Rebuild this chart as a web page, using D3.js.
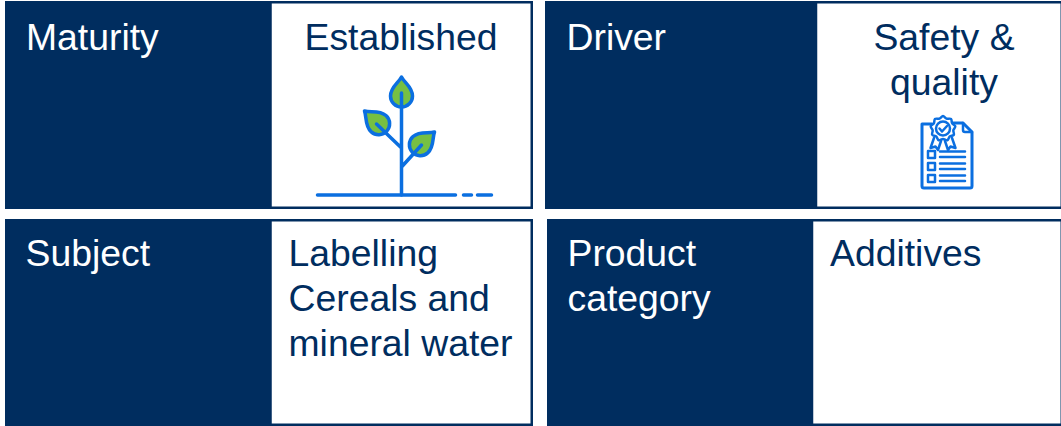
<!DOCTYPE html>
<html>
<head>
<meta charset="utf-8">
<script src="https://cdnjs.cloudflare.com/ajax/libs/d3/7.8.5/d3.min.js"></script>
<style>
html, body { margin: 0; padding: 0; background: #fff; overflow: hidden; }
text { font-family: "Liberation Sans", Arial, sans-serif; font-size: 37.33px; }
</style>
</head>
<body>
<div id="container"></div>
<script>
// what the four boxes say
var headings = [["Maturity"], ["Driver"], ["Subject"], ["Product", "category"]];
var contents = [["Established"], ["Safety &", "quality"], ["Labelling", "Cereals and", "mineral water"], ["Additives"]];

var navy = "#002d5f", blue = "#0b6fe0", green = "#76c043";

// box layout, kept apart from the text
var boxes = [
    { x0: 5,   x1: 270.5, x2: 533,  y0: 1,   y1: 209, hx: 26,  cx: 401, anchor: "middle" },
    { x0: 545, x1: 816,   x2: 1063, y0: 1,   y1: 209, hx: 566.5, cx: 944, anchor: "middle" },
    { x0: 5,   x1: 270.5, x2: 533,  y0: 219, y1: 426, hx: 25.5, cx: 288.5, anchor: "start" },
    { x0: 547, x1: 812,   x2: 1063, y0: 219, y1: 426, hx: 567.5, cx: 830, anchor: "start" }
];
var lineGap = 45, baseline = 34;

var svg = d3.select("#container").append("svg")
    .attr("width", 1061)
    .attr("height", 426)
    .style("display", "block");

boxes.forEach(function(b, i) {
    var g = svg.append("g").attr("class", "box");

    g.append("rect")
        .attr("x", b.x1).attr("y", b.y0 + 1.25)
        .attr("width", b.x2 - b.x1 - 1.25).attr("height", b.y1 - b.y0 - 2.5)
        .attr("fill", "#fff").attr("stroke", navy).attr("stroke-width", 2.5);

    g.append("rect")
        .attr("x", b.x0).attr("y", b.y0)
        .attr("width", b.x1 - b.x0).attr("height", b.y1 - b.y0)
        .attr("fill", navy);

    var top = b.y0 + (i < 2 ? 14.5 : 13) + baseline;

    g.selectAll("text.head")
        .data(headings[i])
        .enter().append("text")
        .attr("class", "head")
        .attr("x", b.hx)
        .attr("y", function(d, j) { return top + j * lineGap; })
        .attr("fill", "#fff")
        .text(function(d) { return d; });

    g.selectAll("text.content")
        .data(contents[i])
        .enter().append("text")
        .attr("class", "content")
        .attr("x", b.cx)
        .attr("y", function(d, j) { return top + j * lineGap; })
        .attr("text-anchor", b.anchor)
        .attr("fill", navy)
        .text(function(d) { return d; });
});

drawPlant(svg.append("g").attr("transform", "translate(401.5,195)"));
drawCertificate(svg.append("g").attr("transform", "translate(921,123)"));

function drawPlant(g) {
    var leaf = "M0,0C3,6 11,10 11,19A11,11 0 0 1 -11,19C-11,10 -3,6 0,0Z";
    var style = function(s) {
        return s.attr("fill", "none").attr("stroke", blue)
            .attr("stroke-width", 3.5).attr("stroke-linecap", "round");
    };

    // [tip x, tip y, rotation]
    [[0, -118, 0], [-37, -84, -48], [33, -63, 48]].forEach(function(l) {
        g.append("path")
            .attr("d", leaf)
            .attr("transform", "translate(" + l[0] + "," + l[1] + ") rotate(" + l[2] + ")")
            .attr("fill", green)
            .attr("stroke", blue)
            .attr("stroke-width", 3.5)
            .attr("stroke-linejoin", "round");
    });

    style(g.append("path")).attr("d", "M0,-102V0M-25,-71L0,-47M20,-50L0,-28");
    style(g.append("path")).attr("d", "M-84,0H54M62,0H70M76,0H90");
}

function drawCertificate(g) {
    var stroke = function(s, w) {
        return s.attr("fill", "none").attr("stroke", blue)
            .attr("stroke-width", w).attr("stroke-linejoin", "round").attr("stroke-linecap", "round");
    };

    // page outline, broken where the rosette sits on it
    stroke(g.append("path"), 3).attr("d", "M11,1H1V63Q1,65 3,65H49Q51,65 51,63V9L42,0H31");
    stroke(g.append("path"), 2.5).attr("d", "M42,0V7Q42,9 44,9H51");

    // rosette: scalloped ring from a radial line
    var scallop = d3.lineRadial()
        .curve(d3.curveCardinalClosed)
        .angle(function(d, i) { return i * Math.PI / 9; })
        .radius(function(d, i) { return i % 2 ? 10.5 : 12.5; });
    stroke(g.append("path"), 2.5)
        .attr("d", scallop(d3.range(18)))
        .attr("transform", "translate(22,5.5)")
        .attr("fill", "#fff");
    stroke(g.append("circle"), 2.5).attr("cx", 22).attr("cy", 5.5).attr("r", 7);
    stroke(g.append("path"), 2.5).attr("d", "M18.5,5.5L21,8.5L26,3");
    stroke(g.append("path"), 2.5).attr("d", "M13,15L9.5,25L14.5,23.5L17,27L20,18M31,15L34.5,25L29.5,23.5L27,27L24,18");

    // checklist rows
    [28, 40, 52].forEach(function(y) {
        stroke(g.append("rect"), 2.5).attr("x", 7).attr("y", y).attr("width", 7).attr("height", 7);
        stroke(g.append("path"), 2.5).attr("d", "M19,"+(y+0.5)+"H44M19,"+(y+6)+"H44");
    });
}
</script>
</body>
</html>
